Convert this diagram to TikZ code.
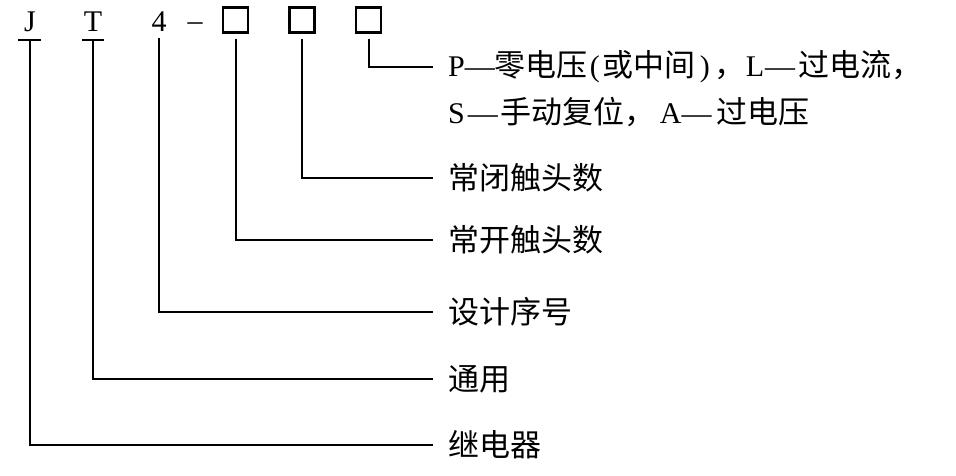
\documentclass[tikz,border=0pt]{standalone}
\usepackage{fontspec}
\setmainfont{Liberation Serif}
\newfontfamily\cjkfont{Noto Sans CJK SC}
\newcommand\lat[1]{{\rmfamily\fontsize{30}{30}\selectfont #1}}
\begin{document}
\begin{tikzpicture}[x=1pt,y=-1pt]
\useasboundingbox[fill=white] (0,0) rectangle (956,475);
\tikzset{
  sym/.style={font=\fontsize{30}{30}\selectfont, inner sep=0},
  codebox/.style={draw, line width=2.2pt, minimum width=25pt, minimum height=25pt, inner sep=0},
  lbl/.style={anchor=west, inner sep=0, font=\cjkfont\fontsize{31}{31}\selectfont},
  conn/.style={line width=2pt},
  uline/.style={line width=2.4pt}
}
% code symbols
\node[sym] (J) at (30,22) {J};
\node[sym] (T) at (93,22) {T};
\node[sym] (N4) at (159,22) {4};
\node[sym] (dash) at (195,27) {–};
\node[codebox] (b1) at (235.5,20) {};
\node[codebox] (b2) at (302,20) {};
\node[codebox] (b3) at (368.5,20) {};
% underlines
\coordinate (Ju) at (30,40);
\coordinate (Tu) at (93,40);
\coordinate (Nu) at (159,38);
\draw[uline] ([xshift=-12pt]Ju) -- ([xshift=11pt]Ju);
\draw[uline] ([xshift=-11pt]Tu) -- ([xshift=11pt]Tu);
% labels
\node[lbl] (l1a) at (448,67) {\lat{P—}零电压\hspace{2pt}\lat{(}\hspace{3pt}或中间\hspace{4pt}\lat{)}\hspace{5pt}，\lat{L\hspace{1pt}—}\hspace{3pt}过电流，};
\node[lbl] (l1b) at (448,112) {\lat{S\hspace{3pt}—}\hspace{3pt}手动复位，\hspace{4pt}\lat{A—}\hspace{5pt}过电压};
\node[lbl] (l2) at (448,178) {常闭触头数};
\node[lbl] (l3) at (448,240) {常开触头数};
\node[lbl] (l4) at (448,312) {设计序号};
\node[lbl] (l5) at (448,379) {通用};
\node[lbl] (l6) at (448,445) {继电器};
% connectors
\draw[conn] ([yshift=-5pt]b3.south) |- ([xshift=-15pt]l1a.west);
\draw[conn] ([yshift=-5pt]b2.south) |- ([xshift=-15pt]l2.west);
\draw[conn] ([yshift=-5pt]b1.south) |- ([xshift=-15pt]l3.west);
\draw[conn] (Nu) |- ([xshift=-15pt]l4.west);
\draw[conn] (Tu) |- ([xshift=-15pt]l5.west);
\draw[conn] (Ju) |- ([xshift=-15pt]l6.west);
\end{tikzpicture}
\end{document}
